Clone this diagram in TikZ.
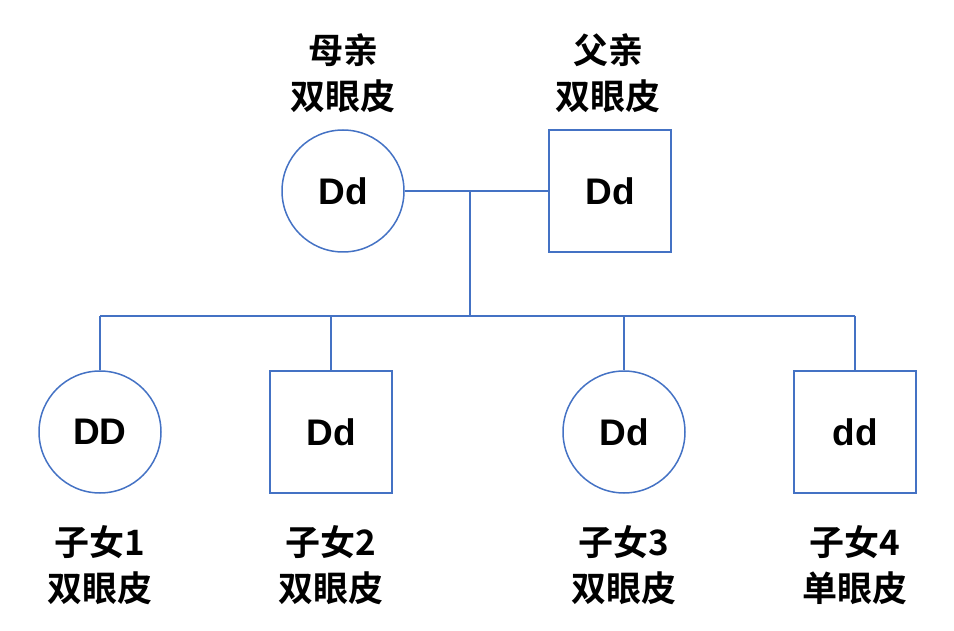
\documentclass[tikz,border=0pt]{standalone}
\usepackage{fontspec}
\setmainfont{Liberation Sans}
\newfontfamily\cjk{Noto Sans CJK SC Bold}
\definecolor{pedline}{RGB}{68,114,196}
\tikzset{
	female/.style={shape=circle, draw=pedline, line width=1.5pt, minimum size=122pt, inner sep=0pt, font=\bfseries\fontsize{37}{37}\selectfont},
	male/.style={shape=rectangle, draw=pedline, line width=1.5pt, minimum size=122pt, inner sep=0pt, font=\bfseries\fontsize{37}{37}\selectfont},
	tag/.style={align=center, font=\cjk\fontsize{35}{46}\selectfont},
}
\begin{document}
\begin{tikzpicture}[x=1pt, y=-1pt]
	\useasboundingbox (0,0) rectangle (954,631);

	\node[female] (mother) at (343,191) {Dd};
	\node[male]   (father) at (610,191) {Dd};
	\node[female] (c1)     at (100,432) {DD};
	\node[male]   (c2)     at (331,432) {Dd};
	\node[female] (c3)     at (624,432) {Dd};
	\node[male]   (c4)     at (855,432) {dd};

	\node[tag] (lmother) at (343,73)  {母亲\\双眼皮};
	\node[tag] (lfather) at (608,73)  {父亲\\双眼皮};
	\node[tag] (l1)      at (100,565) {子女1\\双眼皮};
	\node[tag] (l2)      at (331,565) {子女2\\双眼皮};
	\node[tag] (l3)      at (624,565) {子女3\\双眼皮};
	\node[tag] (l4)      at (855,565) {子女4\\单眼皮};

	\coordinate (j)  at (470,191);
	\coordinate (k)  at (470,316);
	\coordinate (b1) at (100,316);
	\coordinate (b2) at (331,316);
	\coordinate (b3) at (624,316);
	\coordinate (b4) at (855,316);

	\path [-, draw=pedline, line width=1.5pt] (mother) edge (father);
	\path [-, draw=pedline, line width=1.5pt] (j) edge (k);
	\path [-, draw=pedline, line width=1.5pt] (b1) edge (b4);
	\path [-, draw=pedline, line width=1.5pt] (b1) edge (c1);
	\path [-, draw=pedline, line width=1.5pt] (b2) edge (c2);
	\path [-, draw=pedline, line width=1.5pt] (b3) edge (c3);
	\path [-, draw=pedline, line width=1.5pt] (b4) edge (c4);
\end{tikzpicture}
\end{document}
